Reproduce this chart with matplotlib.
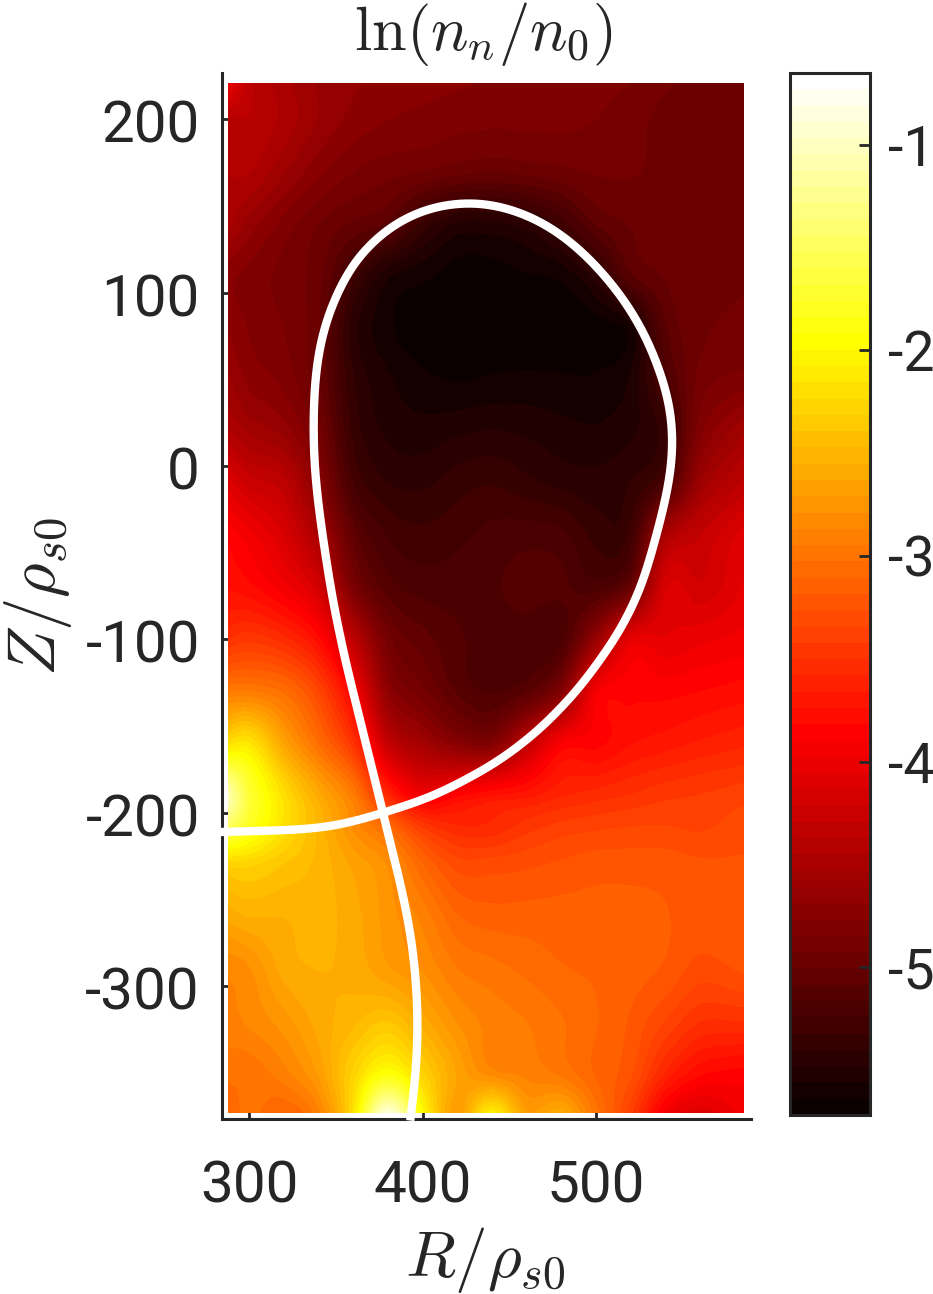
import numpy as np
import matplotlib
matplotlib.use('Agg')
import matplotlib.pyplot as plt
from matplotlib.transforms import ScaledTranslation

plt.rcParams['font.family'] = ['Roboto', 'DejaVu Sans']
plt.rcParams['mathtext.fontset'] = 'cm'
plt.rcParams['axes.unicode_minus'] = False

R_nodes = [288, 300, 320, 340, 360, 380, 400, 420, 440, 460, 480, 500, 520, 540, 560, 585]
Z_nodes = [221, 200, 170, 140, 110, 80, 50, 20, -10, -40, -70, -100, -130, -160, -190, -210,
           -230, -260, -290, -320, -350, -373]
ln_density = [
 [-4.0,-4.35,-4.5,-4.62,-4.68,-4.72,-4.74,-4.76,-4.78,-4.8,-4.8,-4.82,-4.85,-4.92,-4.94,-4.95],
 [-4.4,-4.38,-4.48,-4.62,-4.72,-4.77,-4.8,-4.82,-4.83,-4.83,-4.83,-4.85,-4.9,-4.95,-4.96,-4.96],
 [-4.45,-4.45,-4.6,-4.75,-4.85,-4.9,-4.93,-4.98,-5.0,-4.98,-4.95,-4.92,-4.92,-4.95,-4.96,-4.96],
 [-4.5,-4.65,-4.8,-4.93,-5.02,-5.1,-5.35,-5.5,-5.5,-5.45,-5.3,-5.08,-5.0,-4.98,-4.96,-4.96],
 [-4.75,-4.8,-4.88,-4.98,-5.3,-5.55,-5.62,-5.68,-5.68,-5.65,-5.62,-5.45,-5.1,-5.0,-4.95,-4.94],
 [-4.7,-4.78,-4.85,-5.0,-5.45,-5.62,-5.7,-5.72,-5.72,-5.72,-5.7,-5.68,-5.6,-5.1,-4.95,-4.9],
 [-4.6,-4.72,-4.8,-5.0,-5.4,-5.55,-5.62,-5.65,-5.63,-5.62,-5.63,-5.63,-5.55,-5.2,-4.9,-4.82],
 [-4.45,-4.55,-4.65,-4.9,-5.35,-5.5,-5.53,-5.5,-5.48,-5.5,-5.53,-5.55,-5.5,-5.35,-4.8,-4.55],
 [-4.1,-4.25,-4.35,-4.75,-5.25,-5.4,-5.42,-5.36,-5.33,-5.38,-5.43,-5.45,-5.4,-5.2,-4.6,-4.35],
 [-3.85,-3.95,-4.15,-4.5,-5.05,-5.25,-5.3,-5.27,-5.22,-5.2,-5.22,-5.35,-5.3,-4.5,-4.3,-4.1],
 [-3.75,-3.8,-3.95,-4.2,-4.85,-5.13,-5.2,-5.2,-5.18,-5.13,-5.15,-5.2,-5.0,-4.15,-4.2,-4.05],
 [-3.5,-3.45,-3.55,-3.8,-4.35,-4.9,-5.05,-5.15,-5.2,-5.2,-5.2,-4.65,-4.05,-4.05,-4.0,-3.95],
 [-2.95,-2.95,-3.05,-3.35,-3.9,-4.7,-4.9,-5.1,-5.18,-5.1,-4.8,-3.95,-3.85,-3.85,-3.82,-3.78],
 [-2.2,-2.15,-2.65,-3.05,-3.5,-4.3,-4.55,-4.75,-4.8,-4.35,-3.9,-3.85,-3.75,-3.7,-3.65,-3.6],
 [-1.1,-1.7,-2.2,-2.6,-2.95,-3.6,-3.97,-3.85,-3.75,-3.7,-3.6,-3.55,-3.5,-3.45,-3.42,-3.38],
 [-1.6,-1.85,-2.2,-2.5,-2.8,-3.05,-3.4,-3.55,-3.55,-3.45,-3.38,-3.35,-3.33,-3.33,-3.35,-3.3],
 [-2.3,-2.3,-2.4,-2.5,-2.65,-2.8,-3.1,-3.3,-3.3,-3.28,-3.25,-3.22,-3.22,-3.22,-3.25,-3.25],
 [-2.6,-2.55,-2.55,-2.52,-2.6,-2.75,-2.9,-3.1,-3.15,-3.15,-3.15,-3.15,-3.15,-3.18,-3.22,-3.2],
 [-2.85,-2.8,-2.6,-2.55,-2.58,-2.7,-2.8,-2.95,-3.0,-3.05,-3.1,-3.12,-3.15,-3.2,-3.3,-3.25],
 [-2.9,-2.85,-2.75,-2.6,-2.5,-2.4,-2.6,-2.8,-2.9,-2.95,-3.02,-3.1,-3.2,-3.35,-3.5,-3.5],
 [-3.0,-3.0,-2.9,-2.7,-2.3,-1.95,-2.3,-2.65,-2.85,-2.9,-2.98,-3.12,-3.25,-3.6,-3.8,-3.85],
 [-3.1,-3.0,-3.1,-2.9,-2.2,-0.9,-2.0,-2.7,-2.1,-2.7,-2.6,-3.0,-3.4,-3.95,-4.1,-3.95],
]
sep_R = [282.7,306.3,329.4,352.4,377.2,406.1,442.9,467.7,490.8,513.8,526.5,535.7,541.5,544.4,544.4,540.9,529.4,515.6,
         496.5,477.5,457.9,438.9,425.6,402.6,381.3,361.1,348.4,340.9,337.5,336.9,338.6,342.1,347.8,355.3,364,377.2,
         388.2,393.9,396.8,397.4,396.3,392.8]
sep_Z = [-211.2,-210.6,-210,-207.7,-200.2,-191,-171.4,-152.3,-128.1,-95.8,-69.8,-36.9,-13.8,5.2,24.8,43.9,74.4,97.5,
         120,136.2,146.6,151.8,152.9,149.5,139.1,120,95.8,72.7,46.7,13.3,-12.1,-38.7,-75.6,-111.9,-146.6,-200.2,
         -244.7,-273.5,-302.4,-325.4,-350.3,-378.5]
x_ticks = [300, 400, 500]
y_ticks = [200, 100, 0, -100, -200, -300]
cbar_ticks = [-1, -2, -3, -4, -5]
title = r'$\ln(n_n/n_0)$'
x_label = r'$R/\rho_{s0}$'
y_label = r'$Z/\rho_{s0}$'


def smooth(a, n=6, axis=0):
    """Catmull-Rom resampling between the read values, for drawing only."""
    a = np.moveaxis(np.asarray(a, float), axis, 0)
    p = np.concatenate([2*a[:1]-a[1:2], a, 2*a[-1:]-a[-2:-1]])
    out = []
    for i in range(1, len(p)-2):
        for t in np.arange(n)/n:
            out.append(0.5*(2*p[i] + (p[i+1]-p[i-1])*t + (2*p[i-1]-5*p[i]+4*p[i+1]-p[i+2])*t**2
                            + (3*p[i]-p[i-1]-3*p[i+1]+p[i+2])*t**3))
    out.append(a[-1])
    return np.moveaxis(np.array(out), 0, axis)


def fair_curve(xs, ys, sigma=13.0):
    """Even out reading noise in the traced curve: arc-length resample, Gaussian filter."""
    xs, ys = np.asarray(xs, float), np.asarray(ys, float)
    s = np.r_[0, np.cumsum(np.hypot(np.diff(xs), np.diff(ys)))]
    u = np.arange(0, s[-1], 1.0)
    x, y = np.interp(u, s, xs), np.interp(u, s, ys)
    m = int(4*sigma)
    k = np.exp(-0.5*(np.arange(-m, m+1)/sigma)**2)
    k /= k.sum()
    def f(v):
        pad = np.r_[2*v[0]-v[m:0:-1], v, 2*v[-1]-v[-2:-m-2:-1]]
        return np.convolve(pad, k, mode='valid')
    return f(x), f(y)


W, H = 933, 1294
dark = '#262626'
fig = plt.figure(figsize=(W/100, H/100), dpi=100)
ax = fig.add_axes([222/W, 1-1119/H, (751-222)/W, (1119-73)/H])
ax.set_xlim(284.4, 589.3)
ax.set_ylim(-376.8, 226.8)

levels = np.linspace(-5.72, -0.65, 65)
cmap = plt.get_cmap('hot', 64)
field = smooth(smooth(ln_density, 5, 0), 5, 1)
rr = np.interp(np.linspace(0, len(R_nodes)-1, field.shape[1]), np.arange(len(R_nodes)), R_nodes)
zz = np.interp(np.linspace(0, len(Z_nodes)-1, field.shape[0]), np.arange(len(Z_nodes)), Z_nodes)
cf = ax.contourf(rr, zz, field, levels=levels, cmap=cmap, extend='both', zorder=3)
line_x, line_y = fair_curve(sep_R, sep_Z)
ax.plot(line_x, line_y, color='white', lw=6, clip_on=False, zorder=6,
        solid_joinstyle='round', solid_capstyle='butt')

for s in ('top', 'right'):
    ax.spines[s].set_visible(False)
for s in ('left', 'bottom'):
    ax.spines[s].set_linewidth(2.2)
    ax.spines[s].set_color(dark)
    ax.spines[s].set_zorder(2)
ax.set_xticks(x_ticks)
ax.set_yticks(y_ticks)
ax.tick_params(axis='x', direction='in', length=8, width=2, color=dark, labelsize=42, labelcolor=dark, pad=29.5)
ax.tick_params(axis='y', direction='in', length=8, width=2, color=dark, labelsize=42, labelcolor=dark, pad=16)
down = ScaledTranslation(0, -2/100, fig.dpi_scale_trans)
for lab in ax.get_yticklabels():
    lab.set_transform(lab.get_transform() + down)

cax = fig.add_axes([790/W, 1-1115/H, 80/W, (1115-73)/H])
sm = plt.cm.ScalarMappable(norm=matplotlib.colors.BoundaryNorm(levels, 64), cmap=cmap)
cb = fig.colorbar(sm, cax=cax, ticks=cbar_ticks, spacing='proportional', drawedges=False)
cb.ax.set_yticklabels([str(t) for t in cbar_ticks])
cb.ax.minorticks_off()
cb.outline.set_linewidth(2.2)
cb.outline.set_edgecolor(dark)
cb.ax.tick_params(axis='y', direction='in', length=8, width=2, color=dark, labelsize=40, labelcolor=dark, pad=13)

fig.text(483/W, 1-34/H, title, fontsize=45, color=dark, ha='center', va='center')
fig.text(485/W, 1-1260/H, x_label, fontsize=47, color=dark, ha='center', va='center')
fig.text(38/W, 1-597/H, y_label, fontsize=48, color=dark, ha='center', va='center', rotation=90)

fig.savefig('out.png', dpi=100)
